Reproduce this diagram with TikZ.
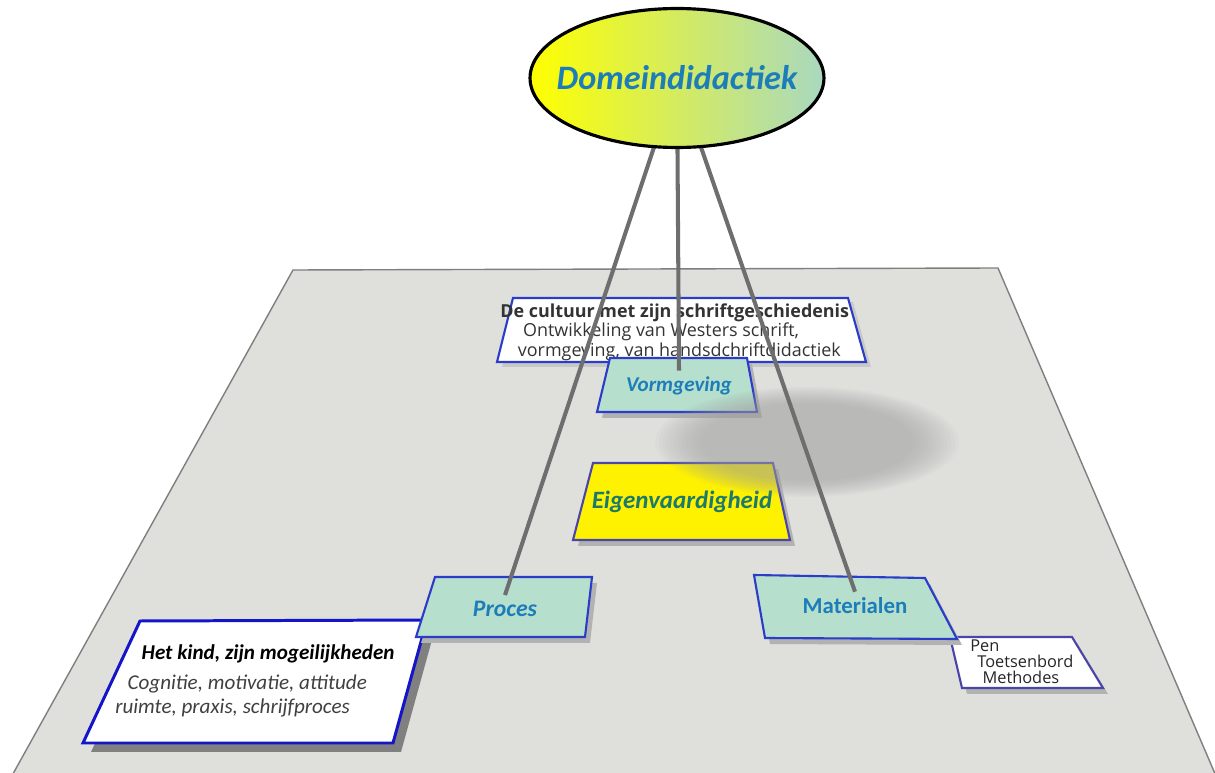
\documentclass[tikz,border=0pt]{standalone}
\usepackage{fontspec}
\setmainfont{Carlito}
\newfontfamily\segoe{Open Sans}
\usetikzlibrary{shapes.geometric}

\definecolor{planefill}{HTML}{DFDFDC}
\definecolor{planeline}{HTML}{7F7F7F}
\definecolor{mint}{HTML}{B6DFCD}
\definecolor{boxblue}{HTML}{2A3CC8}
\definecolor{deepblue}{HTML}{1414C8}
\definecolor{violet}{HTML}{4A46A8}
\definecolor{labelblue}{HTML}{1C7DB8}
\definecolor{labelteal}{HTML}{1B7A6B}
\definecolor{wire}{HTML}{6E6E6E}
\definecolor{domgreen}{HTML}{A9D8C0}

\begin{document}
\begin{tikzpicture}[x=0.02cm,y=-0.02cm]
\tikzstyle{plane}=[fill=planefill,draw=planeline,line width=0.8pt]
\tikzstyle{shade}=[fill=black!30]
\tikzstyle{darkshade}=[fill=black!50]
\tikzstyle{mintbox}=[fill=mint,draw=boxblue,line width=1.2pt]
\tikzstyle{whitebox}=[fill=white,draw=boxblue,line width=1.2pt]
\tikzstyle{label}=[font=\bfseries\itshape\fontsize{12}{14}\selectfont,text=labelblue]
\tikzstyle{wire}=[draw=wire,line width=2.3pt]
\useasboundingbox (0,0) rectangle (1215,773);

% werkvlak
\draw[plane] (293,270) -- (998,268) -- (1222,790) -- (4,790) -- cycle;

% cultuur
\fill[shade,opacity=0.5] (518,302) -- (853,302) -- (871,367) -- (502,367) -- cycle;
\draw[whitebox] (513,298) -- (848,298) -- (866,362) -- (497,362) -- cycle;
\node[anchor=west,inner sep=0pt,align=left,text=black!80,
  font=\segoe\fontsize{10.2}{11}\selectfont] (cult) at (500,332)
  {\textbf{De cultuur met zijn schriftgeschiedenis}\\
   \hspace*{13pt}Ontwikkeling van Westers schrift,\\
   \hspace*{10pt}vormgeving, van handsdchriftdidactiek};

% vormgeving
\fill[shade] (615,364) -- (752,364) -- (762,418) -- (602,418) -- cycle;
\draw[mintbox] (610,358) -- (747,358) -- (757,412) -- (597,412) -- cycle;
\node[label] (vorm) at (679,386) {Vormgeving};

% eigenvaardigheid
\fill[shade] (598,469) -- (778,469) -- (795,546) -- (578,546) -- cycle;
\draw[fill=yellow,draw=violet,line width=1.2pt] (593,463) -- (773,463) -- (790,540) -- (573,540) -- cycle;
\node[label,text=labelteal,font=\bfseries\itshape\fontsize{14.2}{16}\selectfont] (eigen) at (682,502) {Eigenvaardigheid};

% kind
\fill[darkshade] (148,630) -- (435,629) -- (401,752) -- (91,752) -- cycle;
\draw[whitebox,draw=deepblue,line width=1.7pt] (140,621) -- (427,620) -- (393,743) -- (83,743) -- cycle;
\node[anchor=west,inner sep=0pt,align=left,text=black!75,
  font=\itshape\fontsize{12}{14}\selectfont] (kind) at (115,681)
  {\hspace*{15pt}{\bfseries\color{black}Het kind, zijn mogeilijkheden}\\[3pt]
   \hspace*{7pt}Cognitie, motivatie, attitude\\
   ruimte, praxis, schrijfproces};

% pen
\fill[shade] (955,643) -- (1077,643) -- (1108,694) -- (967,694) -- cycle;
\draw[whitebox,draw=violet] (950,637) -- (1072,637) -- (1103,688) -- (962,688) -- cycle;
\node[anchor=west,inner sep=0pt,align=left,text=black!85,
  font=\segoe\fontsize{9.3}{9}\selectfont] (pen) at (970,662)
  {Pen\\ \hspace*{4pt}Toetsenbord\\ \hspace*{7pt}Methodes};

% proces
\fill[shade] (440,583) -- (597,583) -- (590,643) -- (421,643) -- cycle;
\draw[mintbox] (435,577) -- (592,577) -- (585,637) -- (416,637) -- cycle;
\node[label,font=\bfseries\itshape\fontsize{13.5}{15}\selectfont] (proces) at (505,609) {Proces};

% materialen
\fill[shade] (759,581) -- (930,584) -- (962,645) -- (770,644) -- cycle;
\draw[mintbox] (754,575) -- (925,578) -- (957,639) -- (765,638) -- cycle;
\node[label,font=\bfseries\fontsize{13}{15}\selectfont] (mat) at (855,606) {Materialen};

% schaduwvlek
\foreach \s in {1,0.975,...,0.7}
  \fill[black!37,opacity=0.06] (807,442) ellipse [x radius=152*\s, y radius=55*\s];

% domein
\coordinate (hub) at (677,78);
\draw[wire] (hub) -- (proces.north);
\draw[wire] (hub) -- (vorm.north);
\draw[wire] (hub) -- (mat.north);
\node[ellipse,draw=black,line width=1.8pt,left color=yellow,right color=domgreen,
  minimum width=5.88cm,minimum height=2.78cm,inner sep=0pt,
  font=\bfseries\itshape\fontsize{19.5}{22}\selectfont,text=labelblue] (dom) at (hub)
  {\makebox[0pt]{Domeindidactiek}};
\end{tikzpicture}
\end{document}
